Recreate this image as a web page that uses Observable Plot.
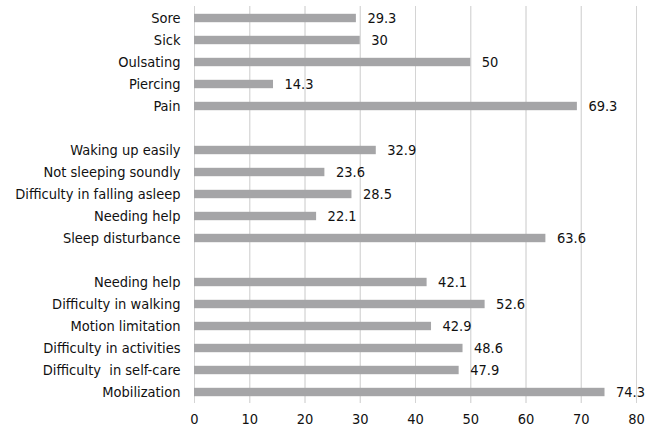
<!DOCTYPE html>
<html><head><meta charset="utf-8">
<script src="https://cdn.jsdelivr.net/npm/d3@7"></script>
<script src="https://cdn.jsdelivr.net/npm/@observablehq/plot@0.6"></script>
<style>
body{margin:0;background:#fff;}
svg text{white-space:pre;}
</style>
</head><body><div id="chart"></div>
<script>
const categories = ["Sore","Sick","Oulsating","Piercing","Pain","",
  "Waking up easily","Not sleeping soundly","Difficulty in falling asleep","Needing help","Sleep disturbance","",
  "Needing help","Difficulty in walking","Motion limitation","Difficulty in activities","Difficulty  in self-care","Mobilization"];
const values = [29.3,30,50,14.3,69.3,null,32.9,23.6,28.5,22.1,63.6,null,42.1,52.6,42.9,48.6,47.9,74.3];
const xTicks = [0,10,20,30,40,50,60,70,80];

const data = categories.map((c,i)=>({i, label:c, value:values[i]})).filter(d=>d.value!=null);
const font = "'Liberation Sans Narrow','DejaVu Sans Condensed',sans-serif";

const chart = Plot.plot({
  width:655, height:431,
  marginTop:6, marginBottom:28, marginLeft:194, marginRight:19,
  style:{fontFamily:font, fontSize:"14.5px", color:"#111", background:"#fff"},
  x:{domain:[0,80], ticks:xTicks, grid:true, tickSize:0, tickPadding:10, label:null},
  y:{domain:d3.range(categories.length), padding:0, tickSize:0, tickPadding:14, tickFormat:i=>categories[i], label:null},
  marks:[
    Plot.gridX(xTicks,{stroke:"#d4d4d4", strokeOpacity:1}),
    Plot.barX(data,{x:"value", y:"i", fill:"#a5a5a7", insetTop:6.8, insetBottom:6.8}),
    Plot.text(data,{x:"value", y:"i", text:d=>String(d.value), textAnchor:"start", dx:11, fill:"#111", fontSize:14.5})
  ]
});
document.getElementById("chart").appendChild(chart);
</script></body></html>
